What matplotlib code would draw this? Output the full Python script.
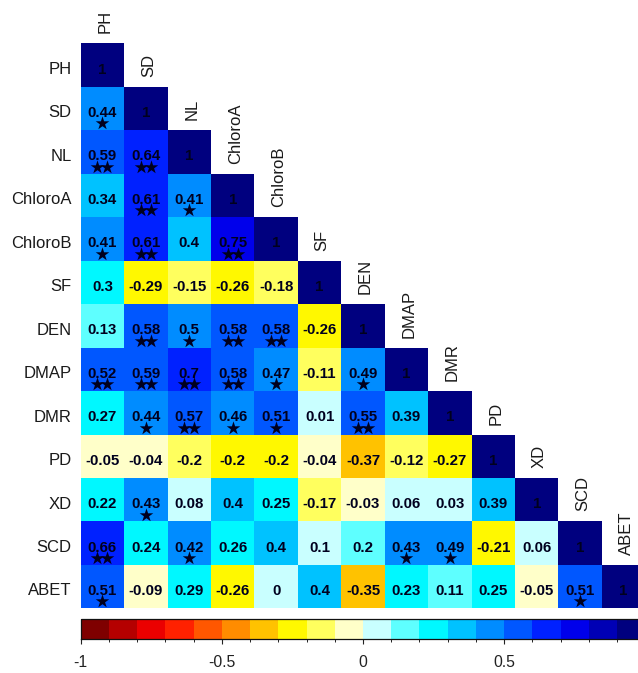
import numpy as np
import matplotlib
matplotlib.use("Agg")
import matplotlib.pyplot as plt
from matplotlib.colors import LinearSegmentedColormap, BoundaryNorm
from matplotlib.cm import ScalarMappable

plt.rcParams['font.family'] = ['Liberation Sans', 'DejaVu Sans']

# ---------------- data ----------------
variables = ["PH", "SD", "NL", "ChloroA", "ChloroB", "SF", "DEN", "DMAP",
             "DMR", "PD", "XD", "SCD", "ABET"]

# lower-triangle correlations (row variable vs. earlier columns)
r_SD      = [0.44]
r_NL      = [0.59, 0.64]
r_ChloroA = [0.34, 0.61, 0.41]
r_ChloroB = [0.41, 0.61, 0.398, 0.75]
r_SF      = [0.298, -0.29, -0.15, -0.26, -0.18]
r_DEN     = [0.13, 0.58, 0.498, 0.58, 0.58, -0.26]
r_DMAP    = [0.52, 0.59, 0.698, 0.58, 0.47, -0.11, 0.49]
r_DMR     = [0.27, 0.44, 0.57, 0.46, 0.51, 0.01, 0.55, 0.39]
r_PD      = [-0.05, -0.04, -0.198, -0.202, -0.202, -0.04, -0.37, -0.12, -0.27]
r_XD      = [0.22, 0.43, 0.08, 0.40, 0.25, -0.17, -0.03, 0.06, 0.03, 0.39]
r_SCD     = [0.66, 0.24, 0.42, 0.26, 0.398, 0.10, 0.20, 0.43, 0.49, -0.21, 0.06]
r_ABET    = [0.51, -0.09, 0.29, -0.26, 0.0, 0.398, -0.35, 0.23, 0.11, 0.25, -0.05, 0.51]

# significance marks
s_SD      = ["*"]
s_NL      = ["**", "**"]
s_ChloroA = ["", "**", "*"]
s_ChloroB = ["*", "**", "", "**"]
s_SF      = ["", "", "", "", ""]
s_DEN     = ["", "**", "*", "**", "**", ""]
s_DMAP    = ["**", "**", "**", "**", "*", "", "*"]
s_DMR     = ["", "*", "**", "*", "*", "", "**", ""]
s_PD      = ["", "", "", "", "", "", "", "", ""]
s_XD      = ["", "*", "", "", "", "", "", "", "", ""]
s_SCD     = ["**", "", "*", "", "", "", "", "*", "*", "", ""]
s_ABET    = ["*", "", "", "", "", "", "", "", "", "", "", "*"]

lower_rows = [[], r_SD, r_NL, r_ChloroA, r_ChloroB, r_SF, r_DEN, r_DMAP,
              r_DMR, r_PD, r_XD, r_SCD, r_ABET]
star_rows = [[], s_SD, s_NL, s_ChloroA, s_ChloroB, s_SF, s_DEN, s_DMAP,
             s_DMR, s_PD, s_XD, s_SCD, s_ABET]

cbar_ticks = [-1, -0.5, 0, 0.5, 1]
cbar_ticklabels = ["-1", "-0.5", "0", "0.5", "1"]

palette_anchors = ["#7F0000", "#FF0000", "#FF7F00", "#FFFF00", "#FFFFFF",
                   "#00FFFF", "#007FFF", "#0000FF", "#00007F"]

# ---------------- build matrix ----------------
n = len(variables)
M = np.full((n, n), np.nan)
for i in range(n):
    M[i, i] = 1.0
    for j, v in enumerate(lower_rows[i]):
        M[i, j] = v
Mm = np.ma.masked_invalid(M)

cmap = LinearSegmentedColormap.from_list("col1", palette_anchors, N=20)
norm = BoundaryNorm(np.linspace(-1, 1, 21), 20)

W, H = 638, 673
fig = plt.figure(figsize=(W / 100, H / 100), dpi=100)
fig.patch.set_facecolor("white")

gx0, gy0, cell_w, cell_h = 80.7, 43.4, 43.43, 43.46
ax = fig.add_axes([gx0 / W, 1 - (gy0 + n * cell_h) / H, n * cell_w / W, n * cell_h / H])
ax.pcolormesh(np.arange(n + 1), np.arange(n + 1), Mm, cmap=cmap, norm=norm,
              edgecolors="none", antialiased=False)
ax.set_xlim(0, n)
ax.set_ylim(n, 0)
ax.axis("off")

px = 1.0 / cell_h  # one pixel in data units
txt_color = "#00001e"

def fmt(v):
    r = round(v, 2)
    if r == 0:
        r = 0.0
    return f"{r:g}"

for i in range(n):
    for j in range(i + 1):
        v = M[i, j]
        ax.text(j + 0.5, i + 0.5 + 8.4 * px, fmt(v), ha="center", va="baseline",
                fontsize=10.8, fontweight="bold", color=txt_color)
        if j < i:
            st = star_rows[i][j]
            if st:
                k = len(st)
                offs = [0.0] if k == 1 else [-5.0, 5.0]
                for o in offs:
                    ax.scatter(j + 0.5 + o * px, i + 0.5 + 14.8 * px, marker="*",
                               s=105, color=txt_color, linewidths=0, zorder=5)

# row labels
for i, name in enumerate(variables):
    ax.text(-9 * px, i + 0.5 + 8.8 * px, name, ha="right", va="baseline",
            fontsize=12, color="#1a1a1a")
# column labels on the diagonal
for j, name in enumerate(variables):
    ax.text(j + 0.5 + 2.5 * px, j - 10 * px, name, ha="center", va="bottom",
            rotation=90, fontsize=12, color="#1a1a1a")

# colorbar
cax = fig.add_axes([gx0 / W, 1 - 639 / H, n * cell_w / W, 20 / H])
sm = ScalarMappable(norm=norm, cmap=cmap)
cb = fig.colorbar(sm, cax=cax, orientation="horizontal", ticks=cbar_ticks)
cb.set_ticklabels(cbar_ticklabels)
cb.outline.set_linewidth(0.9)
cb.outline.set_edgecolor("#111111")
cax.tick_params(axis="x", direction="out", length=3.8, width=0.8, pad=8,
                labelsize=11.3, colors="#222222")

fig.savefig("out.png", dpi=100, facecolor="white")
